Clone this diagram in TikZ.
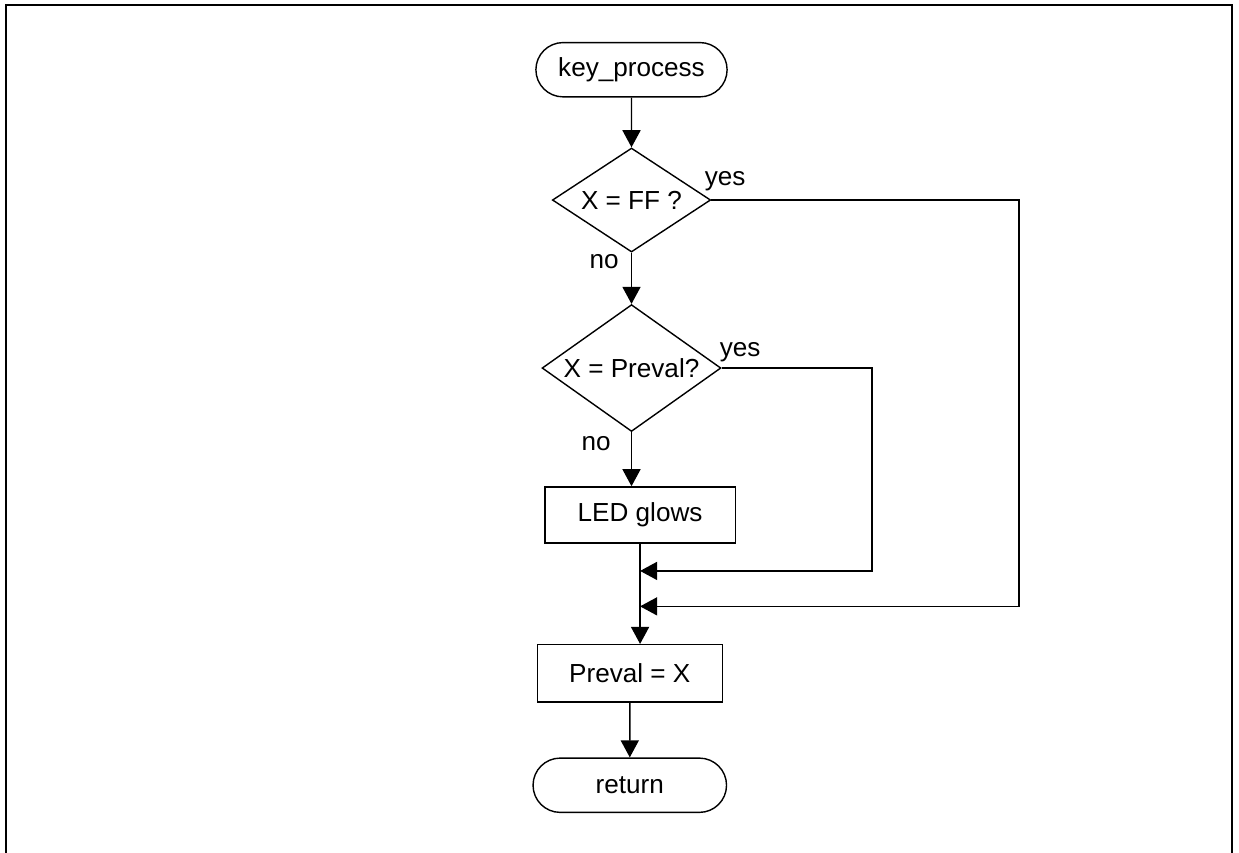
\documentclass[tikz,border=0pt]{standalone}
\usepackage{fontspec}
\setmainfont{Liberation Sans}
\usetikzlibrary{shapes.geometric,shapes.misc,arrows.meta}

\begin{document}
\begin{tikzpicture}[>={Triangle[length=8.5pt,width=9pt]},line width=0.7pt,
    every node/.style={font=\fontsize{13}{15}\selectfont},
    term/.style={rounded rectangle,draw,minimum width=3.58cm,minimum height=0.95cm},
    decision/.style={diamond,draw,inner sep=0pt},
    block/.style={rectangle,draw,minimum height=1.0cm}]
    \useasboundingbox (0,0) rectangle (21.68,14.91);
    \draw[line width=1.2pt] (0.105,-0.5) -- (0.105,14.82) -- (21.56,14.82) -- (21.56,-0.5);
    \node (start) at (11.05,13.69) [term] {key\_process};
    \node (ff)    at (11.05,11.41) [decision,aspect=1.52,minimum width=2.77cm,minimum height=1.82cm] {X = FF ?};
    \node (same)  at (11.05,8.47)  [decision,aspect=1.41,minimum width=3.13cm,minimum height=2.22cm] {X = Preval?};
    \node (led)   at (11.20,5.90)  [block,minimum width=3.33cm,minimum height=0.98cm] {LED glows};
    \node (save)  at (11.02,3.13)  [block,minimum width=3.24cm] {Preval = X};
    \node (ret)   at (11.02,1.17)  [term,minimum width=3.62cm] {return};
    \node (ffyes)   at (12.69,11.74) {yes};
    \node (ffno)    at (10.57,10.33) {no};
    \node (sameyes) at (12.95,8.75)  {yes};
    \node (sameno)  at (10.43,7.14)  {no};
    \coordinate (bend1) at (15.26,4.92);
    \coordinate (bend2) at (17.83,4.30);
    \coordinate (join1) at (11.20,4.92);
    \coordinate (join2) at (11.20,4.30);
    \draw[->] (start) to (ff);
    \draw[->] (ff) to (same);
    \draw[->] (same.south) -- (same.south |- led.north);
    \draw[->] (led.south) -- (led.south |- save.north);
    \draw[->] (save) to (ret);
    \draw[->] (same.east) -| (bend1) -- (join1);
    \draw[->] (ff.east) -| (bend2) -- (join2);
\end{tikzpicture}
\end{document}
